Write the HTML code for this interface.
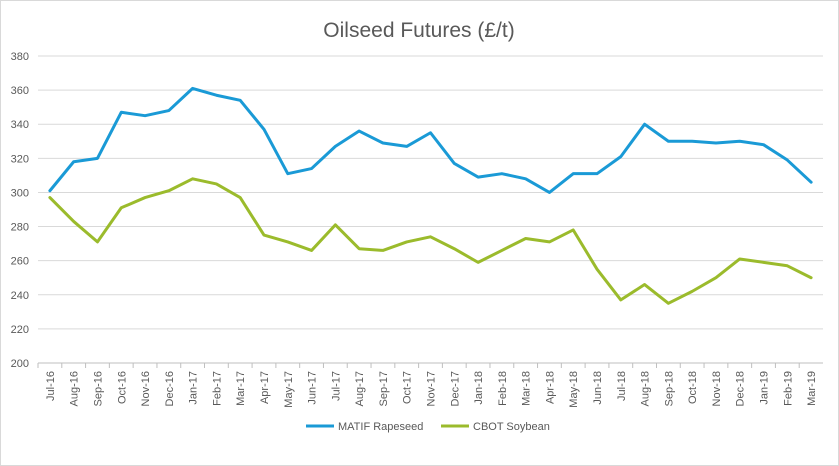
<!DOCTYPE html>
<html><head><meta charset="utf-8"><style>
body{margin:0;background:#fff;font-family:"Liberation Sans",sans-serif}
svg{display:block}
</style></head><body>
<svg width="839" height="466">
<rect x="0.5" y="0.5" width="838" height="465" fill="#fff" stroke="#d9d9d9"/>
<text x="419" y="37" text-anchor="middle" font-size="21" fill="#595959">Oilseed Futures (£/t)</text>
<g id="grid"></g><g id="xt"></g><g id="lines"></g>
<g>
<line x1="306" y1="426" x2="334" y2="426" stroke="#1a9ad6" stroke-width="3"/>
<text x="338" y="430" font-size="11" fill="#595959">MATIF Rapeseed</text>
<line x1="441" y1="426" x2="469" y2="426" stroke="#9bbb2c" stroke-width="3"/>
<text x="473" y="430" font-size="11" fill="#595959">CBOT Soybean</text>
</g>
</svg>
<script>
const categories=["Jul-16","Aug-16","Sep-16","Oct-16","Nov-16","Dec-16","Jan-17","Feb-17","Mar-17","Apr-17","May-17","Jun-17","Jul-17","Aug-17","Sep-17","Oct-17","Nov-17","Dec-17","Jan-18","Feb-18","Mar-18","Apr-18","May-18","Jun-18","Jul-18","Aug-18","Sep-18","Oct-18","Nov-18","Dec-18","Jan-19","Feb-19","Mar-19"];
const rapeseed=[301,318,320,347,345,348,361,357,354,337,311,314,327,336,329,327,335,317,309,311,308,300,311,311,321,340,330,330,329,330,328,319,306];
const soybean=[297,283,271,291,297,301,308,305,297,275,271,266,281,267,266,271,274,267,259,266,273,271,278,255,237,246,235,242,250,261,259,257,250];
const yTicks=[200,220,240,260,280,300,320,340,360,380];
const NS="http://www.w3.org/2000/svg";
const x0=38,x1=823,yTop=56,yBot=363,vMin=200,vMax=380;
const step=(x1-x0)/categories.length;
const xS=i=>x0+step*(i+0.5);
const yS=v=>yBot-(v-vMin)/(vMax-vMin)*(yBot-yTop);
function mk(t,a,p){const e=document.createElementNS(NS,t);for(const k in a)e.setAttribute(k,a[k]);p.appendChild(e);return e;}
const grid=document.getElementById('grid');
yTicks.forEach(v=>{
 const l=mk('line',{x1:x0,x2:x1,y1:yS(v),y2:yS(v),stroke:v===200?'#bfbfbf':'#d9d9d9','stroke-width':1},grid);
 
 
 const t=mk('text',{x:29,y:yS(v)+4,'text-anchor':'end','font-size':11,fill:'#595959'},grid);
 t.textContent=v;
 
 
});
const xt=document.getElementById('xt');
categories.forEach((c,i)=>{
 const tk=mk('line',{x1:x0+step*i,x2:x0+step*i,y1:yBot,y2:yBot+5,stroke:'#bfbfbf'},xt);
 
 
 const x=xS(i)+4,y=yBot+8;
 const t=mk('text',{x:x,y:y,'text-anchor':'end','font-size':11,fill:'#595959',transform:`rotate(-90 ${x} ${y})`},xt);
 t.textContent=c;
 
 
});
const lines=document.getElementById('lines');
[[rapeseed,'#1a9ad6','rapeseed-line'],[soybean,'#9bbb2c','soybean-line']].forEach(([d,c,n])=>{
 const p=mk('polyline',{points:d.map((v,i)=>xS(i)+','+yS(v)).join(' '),fill:'none',stroke:c,'stroke-width':3,'stroke-linejoin':'round','stroke-linecap':'round'},lines);
 
 
});
</script>
</body></html>
